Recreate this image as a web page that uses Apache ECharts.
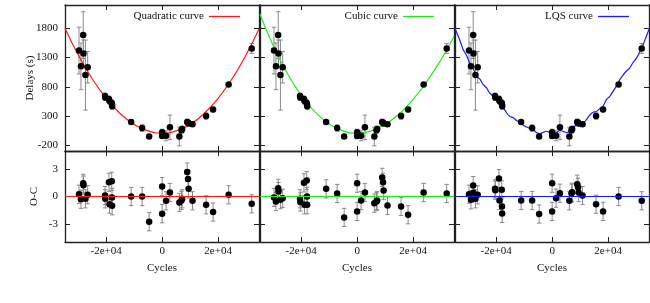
<!DOCTYPE html>
<html><head><meta charset="utf-8">
<script src="https://cdn.jsdelivr.net/npm/echarts@6/dist/echarts.min.js"></script>
<style>html,body{margin:0;padding:0;background:#fff}#c{width:650px;height:303px}</style>
</head><body><div id="c"></div>
<script>
// ---- data ----
const cycles   = [-29700,-29000,-28200,-28100,-27400,-26600,-20400,-20300,-19000,-18800,-18000,-17900,-17850,-11070,-7140,-4640,0,0,1400,2780,6150,6900,7150,8950,9250,9450,10850,15700,18200,23750,32000];
const delays   = [1420,1150,1685,1370,1000,1135,640,615,590,555,520,495,465,197,92,-52,23,-45,-40,105,-52,55,75,195,185,172,158,298,410,840,1456];
const delayErr = [400,400,400,230,600,270,50,50,50,50,50,50,50,30,55,25,50,40,85,210,160,50,50,50,40,40,30,55,40,30,85];
const ocQuad   = [0.25,-0.3,1.45,1.25,-0.25,0.2,0.1,-0.25,1.56,-0.84,1.67,-0.1,-1.02,0.0,0.0,-2.77,1.09,-1.89,-0.47,0.44,-0.66,-0.44,-0.25,2.69,1.93,0.84,-0.47,-0.91,-1.71,0.18,-0.8];
const ocCubic  = [-0.1,-0.55,0.9,0.55,-0.35,-0.2,-0.25,-0.6,1.5,-0.9,1.75,0.0,-0.9,0.84,0.33,-2.3,1.46,-1.64,-0.44,0.44,-0.73,-0.55,-0.44,2.1,1.56,0.66,-0.98,-1.09,-2.0,0.44,0.33];
const ocLqs    = [0.25,-0.36,1.2,0.4,-0.25,0.18,0.84,0.7,1.97,-0.44,0.73,-1.09,-1.86,-0.44,-0.44,-1.93,1.46,-1.64,-0.18,0.36,-0.47,0.36,0.47,1.35,1.02,0.44,0.11,-0.84,-1.64,0.0,-0.47];
const ocErr    = [1,1,1,1,1,1,1,1,1,1,1,1,1,1,1,1,1,1,1,1,1,1,1,1,1,1,1,1,1,1,1];

const curveX     = [-34750,-30000,-25000,-20000,-15000,-10000,-5000,0,5000,10000,15000,20000,25000,30000,34600];
const quadCurve  = [1805,1347,938,603,342,156,44,7,44,156,342,603,938,1347,1790];
const cubicCurve = [2047,1507,1035,655,366,163,44,5,43,154,336,584,896,1267,1660];
const lqsX     = [-34750,-33000,-31800,-30600,-29400,-28200,-27000,-25800,-24600,-23400,-22300,-21100,-19900,-18700,-17500,-16300,-15100,-13900,-12700,-11500,-10400,-9200,-8000,-6800,-5600,-4400,-3200,-2000,-800,400,1600,2700,3900,5100,6300,7500,8700,9900,11100,12300,13500,14600,15800,17000,18200,19400,20600,21800,23000,24200,25400,26500,27700,28900,30100,31300,32500,33700,34750];
const lqsCurve = [1800,1600,1440,1340,1200,1110,985,930,835,780,690,645,575,520,450,355,290,270,220,195,145,110,90,68,15,-5,20,38,15,-5,8,55,35,15,38,95,148,170,175,240,320,365,375,425,470,580,635,725,815,925,1005,1070,1120,1215,1290,1395,1520,1670,1800];

const xTickValues = [-20000,0,20000];
const xTickLabels = ['-2e+04','0','2e+04'];
const delayTicks  = [-200,300,800,1300,1800];
const ocTicks     = [-3,0,3];
const panelNames  = ['Quadratic curve','Cubic curve','LQS curve'];
const panelColors = ['#ff1a1a','#1aee1a','#1a1aff'];
const ocSets      = [ocQuad, ocCubic, ocLqs];
const curveSets   = [curveX.map((x,i)=>[x,quadCurve[i]]), curveX.map((x,i)=>[x,cubicCurve[i]]), lqsX.map((x,i)=>[x,lqsCurve[i]])];

// ---- layout ----
const FONT = 'Liberation Serif';
const TXT = '#111';
const AX = '#222';
const panelLeft = [65,260,455];
const panelW = 194;
const XMIN = -34700, XMAX = 34600;

const grids = [], xAxes = [], yAxes = [], series = [], legends = [];

function xAx(g, pos, showLab, name) {
  return {
    type:'value', gridIndex:g, position:pos, min:XMIN, max:XMAX,
    axisLine:{show:true,onZero:false,lineStyle:{color:AX,width:1.3}},
    axisTick:{show:true,inside:true,length:5,customValues:xTickValues,lineStyle:{color:AX,width:1}},
    axisLabel:{show:showLab,customValues:xTickValues,margin:4,fontFamily:FONT,fontSize:11,color:TXT,
      formatter:v=>{const k=xTickValues.indexOf(v);return k>=0?xTickLabels[k]:'';}},
    splitLine:{show:false},
    name:name||'', nameLocation:'middle', nameGap:21, nameMoveOverlap:false,
    nameTextStyle:{fontFamily:FONT,fontSize:11,color:TXT}
  };
}
function yAx(g, pos, min, max, ticks, showLab, name, gap) {
  return {
    type:'value', gridIndex:g, position:pos, min:min, max:max,
    axisLine:{show:true,onZero:false,lineStyle:{color:AX,width:1.3}},
    axisTick:{show:true,inside:true,length:5,customValues:ticks,lineStyle:{color:AX,width:1}},
    axisLabel:{show:showLab,customValues:ticks,margin:7,fontFamily:FONT,fontSize:11,color:TXT,
      formatter:v=>String(v)},
    splitLine:{show:false},
    name:name||'', nameLocation:'middle', nameGap:gap||0, nameRotate:90, nameMoveOverlap:false,
    nameTextStyle:{fontFamily:FONT,fontSize:11,color:TXT}
  };
}
function errItem(params, api) {
  const x = api.value(0), y = api.value(1), e = api.value(2);
  const lo = api.coord([x, y - e]), hi = api.coord([x, y + e]);
  const w = 2.2, st = {stroke:'#8a8a8a', lineWidth:1};
  return {type:'group', children:[
    {type:'line', shape:{x1:lo[0],y1:lo[1],x2:hi[0],y2:hi[1]}, style:st},
    {type:'line', shape:{x1:lo[0]-w,y1:lo[1],x2:lo[0]+w,y2:lo[1]}, style:st},
    {type:'line', shape:{x1:hi[0]-w,y1:hi[1],x2:hi[0]+w,y2:hi[1]}, style:st}
  ]};
}

for (let p = 0; p < 3; p++) {
  const gTop = 2*p, gBot = 2*p+1;
  grids.push({left:panelLeft[p], width:panelW, top:5, height:146, show:false});
  grids.push({left:panelLeft[p], width:panelW, top:151, height:91, show:false});
  xAxes.push(xAx(gTop,'bottom',false));
  xAxes.push(xAx(gTop,'top',false));
  xAxes.push(xAx(gBot,'bottom',true,'Cycles'));
  xAxes.push(xAx(gBot,'top',false));
  yAxes.push(yAx(gTop,'left',-300,2200,delayTicks,p===0,p===0?'Delays (s)':'',29));
  yAxes.push(yAx(gTop,'right',-300,2200,delayTicks,false));
  yAxes.push(yAx(gBot,'left',-5,5,ocTicks,p===0,p===0?'O-C':'',25));
  yAxes.push(yAx(gBot,'right',-5,5,ocTicks,false));

  const xt = 2*gTop, yt = 2*gTop, xb = 2*gBot, yb = 2*gBot;
  series.push({type:'custom', xAxisIndex:xt, yAxisIndex:yt, renderItem:errItem, clip:true, z:2,
    data:cycles.map((c,i)=>[c,delays[i],delayErr[i]])});
  series.push({type:'line', name:panelNames[p], xAxisIndex:xt, yAxisIndex:yt, data:curveSets[p],
    smooth:p===2?0.25:true, symbol:'none', clip:true, z:3,
    lineStyle:{color:panelColors[p],width:1.2}, itemStyle:{color:panelColors[p]}});
  series.push({type:'scatter', xAxisIndex:xt, yAxisIndex:yt, symbolSize:6.5, z:4,
    itemStyle:{color:'#000',opacity:1}, data:cycles.map((c,i)=>[c,delays[i]])});
  series.push({type:'custom', xAxisIndex:xb, yAxisIndex:yb, renderItem:errItem, clip:true, z:2,
    data:cycles.map((c,i)=>[c,ocSets[p][i],ocErr[i]])});
  series.push({type:'scatter', xAxisIndex:xb, yAxisIndex:yb, symbolSize:6.5, z:4,
    itemStyle:{color:'#000',opacity:1}, data:cycles.map((c,i)=>[c,ocSets[p][i]]),
    markLine:{silent:true, symbol:'none', label:{show:false}, animation:false,
      lineStyle:{color:panelColors[p],width:1.2,type:'solid'}, data:[{yAxis:0}]}});
}
const legendRight = [410,216,21];
for (let p = 0; p < 3; p++) {
  legends.push({data:[{name:panelNames[p], icon:'rect', itemStyle:{color:panelColors[p]}}],
    right:legendRight[p], top:11, padding:0, align:'right',
    itemWidth:31, itemHeight:1.3, selectedMode:false,
    textStyle:{fontFamily:FONT,fontSize:11,color:TXT}});
}

const chart = echarts.init(document.getElementById('c'), null, {renderer:'canvas'});
chart.setOption({animation:false, backgroundColor:'#fff', grid:grids, xAxis:xAxes, yAxis:yAxes, legend:legends, series:series});
</script></body></html>
